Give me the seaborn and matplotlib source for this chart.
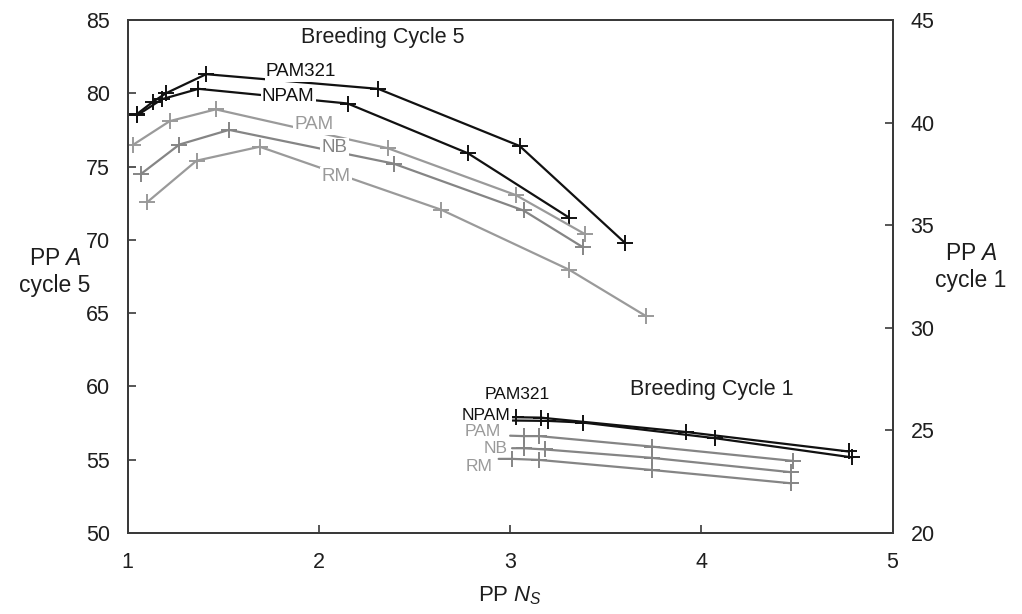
import matplotlib
matplotlib.use("Agg")
import matplotlib.pyplot as plt
import seaborn as sns

# Breeding cycle 5 (left axis): PP Ns vs PP A
c5_pam321_x = [1.05, 1.13, 1.20, 1.41, 2.31, 3.05, 3.60]
c5_pam321_y = [78.6, 79.4, 80.0, 81.3, 80.3, 76.4, 69.8]
c5_npam_x = [1.05, 1.18, 1.37, 2.15, 2.78, 3.31]
c5_npam_y = [78.5, 79.6, 80.3, 79.3, 75.9, 71.5]
c5_pam_x = [1.03, 1.22, 1.46, 2.36, 3.03, 3.39]
c5_pam_y = [76.5, 78.1, 78.9, 76.25, 73.05, 70.4]
c5_nb_x = [1.07, 1.27, 1.53, 2.39, 3.07, 3.38]
c5_nb_y = [74.5, 76.5, 77.5, 75.2, 72.0, 69.5]
c5_rm_x = [1.10, 1.36, 1.69, 2.64, 3.31, 3.71]
c5_rm_y = [72.55, 75.4, 76.35, 72.05, 67.95, 64.8]

# Breeding cycle 1 (right axis), first point is where the line leaves its label
c1_pam321_x = [3.00, 3.03, 3.16, 3.92, 4.77]
c1_pam321_y = [25.64, 25.64, 25.62, 24.92, 23.97]
c1_npam_x = [3.00, 3.20, 3.38, 4.07, 4.79]
c1_npam_y = [25.48, 25.46, 25.38, 24.62, 23.68]
c1_pam_x = [3.00, 3.07, 3.15, 3.74, 4.48]
c1_pam_y = [24.74, 24.72, 24.72, 24.21, 23.51]
c1_nb_x = [3.01, 3.07, 3.18, 3.74, 4.47]
c1_nb_y = [24.13, 24.13, 24.07, 23.66, 22.96]
c1_rm_x = [2.94, 3.01, 3.15, 3.74, 4.47]
c1_rm_y = [23.61, 23.61, 23.56, 23.07, 22.42]

x_ticks = [1, 2, 3, 4, 5]
left_ticks = [50, 55, 60, 65, 70, 75, 80, 85]
right_ticks = [20, 25, 30, 35, 40, 45]

sns.set_theme(style="ticks")
plt.rcParams["font.family"] = ["Liberation Sans", "DejaVu Sans"]
plt.rcParams["mathtext.fontset"] = "custom"
plt.rcParams["mathtext.rm"] = "Liberation Sans"
plt.rcParams["mathtext.it"] = "Liberation Sans:italic"

BLACK = "#111111"
GREY = "#9a9a9a"
GREY_DARK = "#858585"
TXT = "#1e1e1e"

fig = plt.figure(figsize=(10.22, 6.14), dpi=100)
ax = fig.add_axes([0.125, 0.132, 0.7483, 0.8355])
ax2 = ax.twinx()

line_kw = dict(linewidth=1.6, marker="+", markersize=12, markeredgewidth=1.4,
               sort=False, estimator=None, legend=False)

c5 = [
    (c5_pam321_x, c5_pam321_y, BLACK),
    (c5_npam_x, c5_npam_y, BLACK),
    (c5_pam_x, c5_pam_y, GREY),
    (c5_nb_x, c5_nb_y, GREY_DARK),
    (c5_rm_x, c5_rm_y, GREY),
]
for xs, ys, col in c5:
    sns.lineplot(x=xs, y=ys, ax=ax, color=col, markeredgecolor=col, **line_kw)

c1 = [
    (c1_pam321_x, c1_pam321_y, BLACK),
    (c1_npam_x, c1_npam_y, BLACK),
    (c1_pam_x, c1_pam_y, GREY_DARK),
    (c1_nb_x, c1_nb_y, GREY_DARK),
    (c1_rm_x, c1_rm_y, GREY_DARK),
]
for xs, ys, col in c1:
    sns.lineplot(x=xs, y=ys, ax=ax2, color=col, markeredgecolor=col,
                 markevery=list(range(1, len(xs))), **line_kw)

# labels sitting on the lines
box = dict(facecolor="white", edgecolor="none", pad=1.0)
lab5 = [("PAM321", 1.907, 81.45, BLACK), ("NPAM", 1.839, 79.75, BLACK),
        ("PAM", 1.975, 77.84, GREY), ("NB", 2.080, 76.27, GREY_DARK),
        ("RM", 2.090, 74.29, GREY)]
for t, x, y, col in lab5:
    ax.text(x, y, t, color=col, fontsize=13.5, ha="center", va="center",
            bbox=box, zorder=5)

lab1 = [("PAM321", 3.035, 26.73, BLACK), ("NPAM", 2.874, 25.72, BLACK),
        ("PAM", 2.859, 24.92, GREY), ("NB", 2.925, 24.12, GREY),
        ("RM", 2.838, 23.25, GREY)]
for t, x, y, col in lab1:
    ax2.text(x, y, t, color=col, fontsize=12.5, ha="center", va="center",
             bbox=box, zorder=5)

ax.text(2.336, 83.77, "Breeding Cycle 5", color=TXT, fontsize=15.5,
        ha="center", va="center")
ax2.text(4.056, 26.97, "Breeding Cycle 1", color=TXT, fontsize=15.5,
         ha="center", va="center")

ax.set_xlim(1, 5)
ax.set_ylim(50, 85)
ax2.set_ylim(20, 45)
ax.set_xticks(x_ticks)
ax.set_yticks(left_ticks)
ax2.set_yticks(right_ticks)

for a in (ax, ax2):
    for s in a.spines.values():
        s.set_visible(True)
        s.set_color("#3a3a3a")
        s.set_linewidth(1.4)
    a.tick_params(direction="in", length=6, width=1.2, color="#3a3a3a",
                  labelsize=15.5, labelcolor=TXT)
ax.tick_params(axis="y", pad=13)
ax.tick_params(axis="x", pad=14)
ax2.tick_params(axis="y", pad=13)

ax.set_xlabel("PP $N_S$", fontsize=16, color=TXT, labelpad=8)
ax.set_ylabel("PP $A$\ncycle 5", fontsize=16.5, color=TXT, rotation=0,
              ha="center", va="center", multialignment="center")
ax.yaxis.set_label_coords(-0.095, 0.509)
ax2.set_ylabel("PP $A$\ncycle 1", fontsize=16.5, color=TXT, rotation=0,
               ha="center", va="center", multialignment="center")
ax2.yaxis.set_label_coords(1.1027, 0.518)

fig.savefig("out.png", dpi=100)
